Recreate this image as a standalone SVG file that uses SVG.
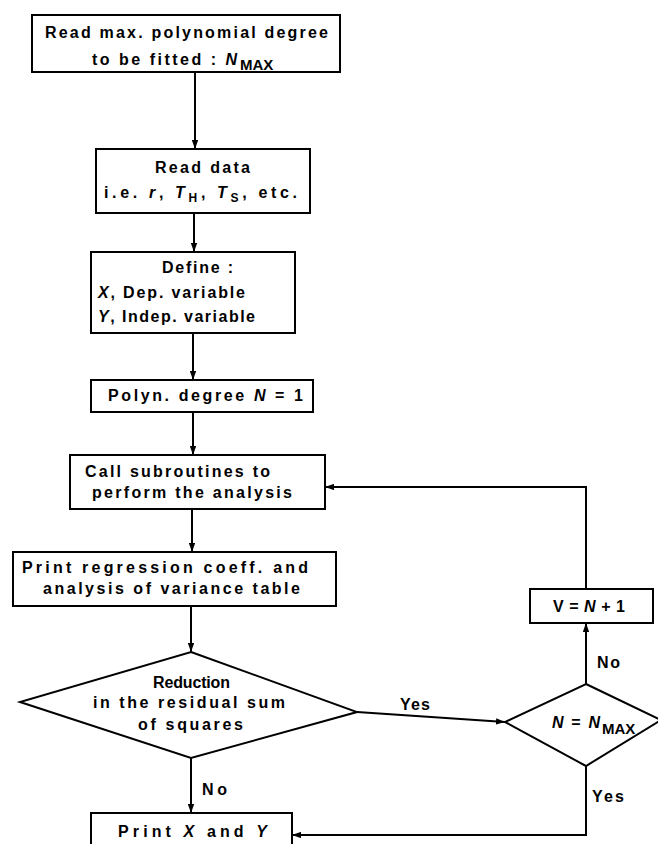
<svg xmlns="http://www.w3.org/2000/svg" width="658" height="844" viewBox="0 0 658 844">
<defs>
<marker id="ah" viewBox="0 0 10 7" refX="10" refY="3.5" markerWidth="4.5" markerHeight="3.15" orient="auto"><path d="M0,0 L10,3.5 L0,7 z" fill="#000"/></marker>
</defs>
<style>
.b{fill:#fff;stroke:#000;stroke-width:2}
.t{font-family:"Liberation Sans",Arial,sans-serif;font-size:16px;font-weight:bold;fill:#000}
.i{font-style:italic}
.s{font-size:12px;font-style:normal}
.sub{font-family:"Liberation Sans",Arial,sans-serif;font-size:15px;font-weight:bold;fill:#000}
.c{fill:none;stroke:#000;stroke-width:2}
</style>
<rect width="658" height="844" fill="#fff"/>
<g id="connectors">
<path class="c" d="M195,72 V149" marker-end="url(#ah)"/>
<path class="c" d="M194,213 V252" marker-end="url(#ah)"/>
<path class="c" d="M193,333 V380" marker-end="url(#ah)"/>
<path class="c" d="M193,412 V455" marker-end="url(#ah)"/>
<path class="c" d="M192,509 V552" marker-end="url(#ah)"/>
<path class="c" d="M191,606 V652" marker-end="url(#ah)"/>
<path class="c" d="M191,758 V813" marker-end="url(#ah)"/>
<path class="c" d="M357,712 L505,722" marker-end="url(#ah)"/>
<path class="c" d="M586,684 V623" marker-end="url(#ah)"/>
<path class="c" d="M586,589 V487 H325" marker-end="url(#ah)"/>
<path class="c" d="M586,766 V835 H292" marker-end="url(#ah)"/>
<text class="t" x="400" y="710" textLength="30">Yes</text>
<text class="t" x="597" y="668" textLength="23">No</text>
<text class="t" x="202" y="795" textLength="25">No</text>
<text class="t" x="592" y="802" textLength="32">Yes</text>
</g>
<g id="n1">
<rect class="b" x="32" y="15" width="308" height="57"/>
<text class="t" x="45" y="38" textLength="283">Read max. polynomial degree</text>
<text class="t" x="92" y="65" textLength="145">to be fitted : <tspan class="i">N</tspan></text>
<text class="sub" x="240" y="70">MAX</text>
</g>
<g id="n2">
<rect class="b" x="96" y="149" width="214" height="64"/>
<text class="t" x="155" y="173" textLength="95">Read data</text>
<text class="t" x="104" y="198" textLength="193">i.e. <tspan class="i">r</tspan>, <tspan class="i">T</tspan><tspan class="s" dy="4">H</tspan><tspan dy="-4">, </tspan><tspan class="i">T</tspan><tspan class="s" dy="4">S</tspan><tspan dy="-4">, etc.</tspan></text>
</g>
<g id="n3">
<rect class="b" x="91" y="252" width="204" height="81"/>
<text class="t" x="162" y="273" textLength="71">Define :</text>
<text class="t" x="98" y="298" textLength="147"><tspan class="i">X</tspan>, Dep. variable</text>
<text class="t" x="98" y="322" textLength="157"><tspan class="i">Y</tspan>, Indep. variable</text>
</g>
<g id="n4">
<rect class="b" x="91" y="380" width="222" height="32"/>
<text class="t" x="108" y="401" textLength="195">Polyn. degree <tspan class="i">N</tspan> = 1</text>
</g>
<g id="n5">
<rect class="b" x="70" y="455" width="255" height="54"/>
<text class="t" x="85" y="477" textLength="185">Call subroutines to</text>
<text class="t" x="92" y="498" textLength="200">perform the analysis</text>
</g>
<g id="n6">
<rect class="b" x="13" y="552" width="323" height="54"/>
<text class="t" x="22" y="573" textLength="286">Print regression coeff. and</text>
<text class="t" x="43" y="594" textLength="257">analysis of variance table</text>
</g>
<g id="n7">
<polygon class="b" points="191,652 357,712 191,758 20,702"/>
<text class="t" x="153" y="688" textLength="77">Reduction</text>
<text class="t" x="93" y="708" textLength="192">in the residual sum</text>
<text class="t" x="138" y="730" textLength="105">of squares</text>
</g>
<g id="n8">
<polygon class="b" points="586,684 661,720 586,766 505,722"/>
<text class="t" x="552" y="728" textLength="48"><tspan class="i">N</tspan> = <tspan class="i">N</tspan></text>
<text class="sub" x="602" y="734">MAX</text>
</g>
<g id="n9">
<rect class="b" x="530" y="589" width="123" height="34"/>
<text class="t" x="553" y="612" textLength="72">V = <tspan class="i">N</tspan> + 1</text>
</g>
<g id="n10">
<rect class="b" x="91" y="813" width="201" height="50"/>
<text class="t" x="118" y="837" textLength="149">Print <tspan class="i">X</tspan> and <tspan class="i">Y</tspan></text>
</g>
</svg>
